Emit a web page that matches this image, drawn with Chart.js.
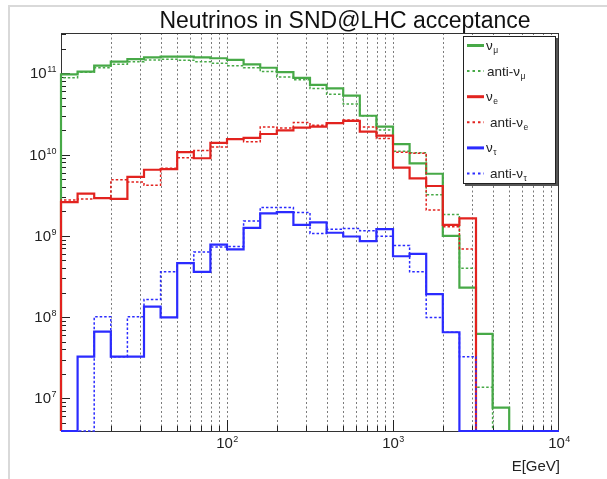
<!DOCTYPE html>
<html>
<head>
<meta charset="utf-8">
<script src="https://cdn.jsdelivr.net/npm/chart.js@4.4.1/dist/chart.umd.min.js"></script>
<style>
  html, body { margin: 0; padding: 0; background: #ffffff; }
  #wrap { width: 607px; height: 479px; position: relative; }
</style>
</head>
<body>
<div id="wrap"><canvas id="c" width="607" height="479"></canvas></div>
<script>
// Energy binning: 30 equal-width bins in log10(E), from 10 GeV to 10 TeV
const binEdges = Array.from({ length: 31 }, (_, k) => Math.pow(10, 1 + k / 10));

// Neutrino counts per energy bin (0 = empty bin)
const numu = [9.7e10, 1.05e11, 1.24e11, 1.39e11, 1.49e11, 1.57e11, 1.60e11, 1.60e11, 1.57e11, 1.53e11,
              1.46e11, 1.29e11, 1.17e11, 1.03e11, 8.8e10, 7.2e10, 6.5e10, 5.3e10, 3.0e10, 2.2e10,
              1.34e10, 7.8e9, 5.8e9, 1.0e9, 2.3e8, 6.2e7, 7.7e6, 0, 0, 0];
const antiNumu = [8.8e10, 1.03e11, 1.17e11, 1.29e11, 1.39e11, 1.46e11, 1.49e11, 1.45e11, 1.39e11, 1.33e11,
                  1.24e11, 1.17e11, 1.05e11, 9.0e10, 8.3e10, 6.5e10, 5.5e10, 4.2e10, 3.0e10, 2.0e10,
                  1.1e10, 1.05e10, 3.2e9, 1.83e9, 4.0e8, 1.37e7, 0, 0, 0, 0];
const nue = [2.6e9, 3.3e9, 2.9e9, 2.84e9, 5.3e9, 6.5e9, 6.6e9, 1.07e10, 9.0e9, 1.39e10,
             1.55e10, 1.6e10, 1.79e10, 1.98e10, 2.14e10, 2.2e10, 2.43e10, 2.59e10, 1.91e10, 1.71e10,
             6.9e9, 5.1e9, 4.1e9, 1.36e9, 1.64e9, 0, 0, 0, 0, 0];
const antiNue = [2.76e9, 2.84e9, 2.9e9, 4.9e9, 4.6e9, 4.2e9, 6.8e9, 9.1e9, 1.12e10, 1.24e10,
                 1.55e10, 1.44e10, 2.18e10, 2.12e10, 2.48e10, 2.29e10, 2.43e10, 2.66e10, 2.18e10, 1.58e10,
                 1.07e10, 1.04e10, 2.08e9, 1.29e9, 6.9e8, 0, 0, 0, 0, 0];
const nutau = [0, 3.25e7, 6.6e7, 3.25e7, 3.25e7, 1.34e8, 9.9e7, 4.6e8, 3.6e8, 7.8e8,
               6.8e8, 1.25e9, 1.89e9, 1.96e9, 1.36e9, 1.46e9, 1.09e9, 9.8e8, 8.6e8, 1.21e9,
               5.6e8, 6.0e8, 1.92e8, 6.5e7, 0, 0, 0, 0, 0, 0];
const antiNutau = [0, 0, 1.01e8, 3.25e7, 1.01e8, 1.65e8, 3.6e8, 4.6e8, 6.3e8, 7.3e8,
                   7.4e8, 1.52e9, 2.23e9, 2.23e9, 1.94e9, 1.07e9, 1.2e9, 1.23e9, 1.15e9, 9.9e8,
                   7.6e8, 3.6e8, 9.9e7, 6.5e7, 3.25e7, 0, 0, 0, 0, 0];

// Axis tick labels (powers of ten)
const xTickExps = [2, 3, 4];
const yTickExps = [7, 8, 9, 10, 11];

const X_MIN = 10, X_MAX = 1e4;
const Y_MIN = 3.96e6, Y_MAX = 3.13e11;

const GREEN = '#47a947', RED = '#e2231f', BLUE = '#2b2bff';
const FONT = '"Liberation Sans", Arial, Helvetica, sans-serif';

// Histogram outline: rise from the floor at the first edge, then one step per bin.
// Empty bins sit on the bottom of the frame, as on a log axis.
function histPoints(values) {
  const at = v => (v > 0 ? v : Y_MIN);
  const pts = [{ x: binEdges[0], y: Y_MIN }];
  values.forEach((v, k) => pts.push({ x: binEdges[k], y: at(v) }));
  pts.push({ x: binEdges[binEdges.length - 1], y: at(values[values.length - 1]) });
  return pts;
}

const series = [
  { data: numu, color: GREEN, dashed: false, sub: 'μ', label: 'ν' },
  { data: antiNumu, color: GREEN, dashed: true, sub: 'μ', label: 'anti-ν' },
  { data: nue, color: RED, dashed: false, sub: 'e', label: 'ν' },
  { data: antiNue, color: RED, dashed: true, sub: 'e', label: 'anti-ν' },
  { data: nutau, color: BLUE, dashed: false, sub: 'τ', label: 'ν' },
  { data: antiNutau, color: BLUE, dashed: true, sub: 'τ', label: 'anti-ν' }
];

const datasets = series.map((s, i) => ({
  label: s.label + s.sub,
  data: histPoints(s.data),
  borderColor: s.color,
  borderWidth: s.dashed ? 1.5 : 2.2,
  borderDash: s.dashed ? [2.5, 2] : [],
  stepped: true,
  fill: false,
  pointRadius: 0,
  clip: false,
  order: series.length - i
}));

// Grid / tick positions on the energy axis
const xMinor = [];
for (let d = 1; d <= 3; d++) for (let m = 1; m <= 9; m++) xMinor.push(m * Math.pow(10, d));
const yMinor = [];
for (let d = 6; d <= 11; d++) for (let m = 2; m <= 9; m++) {
  const v = m * Math.pow(10, d);
  if (v > Y_MIN && v < Y_MAX) yMinor.push(v);
}

function powerLabel(ctx, exp, x, y, align) {
  const base = '10', sup = String(exp);
  ctx.font = '15px ' + FONT;
  const wb = ctx.measureText(base).width;
  ctx.font = '9px ' + FONT;
  const ws = ctx.measureText(sup).width;
  const left = align === 'right' ? x - wb - ws : x - (wb + ws) / 2;
  ctx.textAlign = 'left';
  ctx.textBaseline = 'alphabetic';
  ctx.font = '15px ' + FONT;
  ctx.fillText(base, left, y);
  ctx.font = '9px ' + FONT;
  ctx.fillText(sup, left + wb + 0.5, y - 6);
}

const rootFrame = {
  id: 'rootFrame',
  beforeDatasetsDraw(chart) {
    const { ctx, chartArea: a, scales: { x, y } } = chart;
    ctx.save();
    // dotted vertical grid
    ctx.strokeStyle = '#7a7a7a';
    ctx.lineWidth = 1;
    ctx.setLineDash([2, 2.5]);
    xMinor.forEach(v => {
      if (v <= X_MIN || v >= X_MAX) return;
      const px = Math.round(x.getPixelForValue(v)) + 0.5;
      ctx.beginPath(); ctx.moveTo(px, a.bottom); ctx.lineTo(px, a.top); ctx.stroke();
    });
    ctx.setLineDash([]);
    // frame
    ctx.strokeStyle = '#333';
    ctx.lineWidth = 1;
    ctx.strokeRect(a.left + 0.5, a.top + 0.5, a.right - a.left - 1, a.bottom - a.top);
    // x ticks (bottom)
    ctx.strokeStyle = '#222';
    xMinor.forEach(v => {
      if (v <= X_MIN || v >= X_MAX) return;
      const px = Math.round(x.getPixelForValue(v)) + 0.5;
      const major = Math.abs(Math.log10(v) - Math.round(Math.log10(v))) < 1e-9;
      ctx.beginPath(); ctx.moveTo(px, a.bottom); ctx.lineTo(px, a.bottom - (major ? 11 : 5)); ctx.stroke();
    });
    // y ticks (left)
    yMinor.forEach(v => {
      const py = Math.round(y.getPixelForValue(v)) + 0.5;
      ctx.beginPath(); ctx.moveTo(a.left, py); ctx.lineTo(a.left + 5, py); ctx.stroke();
    });
    yTickExps.forEach(e => {
      const py = Math.round(y.getPixelForValue(Math.pow(10, e))) + 0.5;
      ctx.beginPath(); ctx.moveTo(a.left, py); ctx.lineTo(a.left + 9, py); ctx.stroke();
    });
    ctx.restore();
  },
  afterDraw(chart) {
    const { ctx, chartArea: a, scales: { x, y } } = chart;
    ctx.save();
    // outer canvas edge
    ctx.strokeStyle = '#d9d9d9';
    ctx.lineWidth = 2;
    ctx.beginPath(); ctx.moveTo(9, 479); ctx.lineTo(9, 6); ctx.lineTo(607, 6); ctx.stroke();

    ctx.fillStyle = '#222';
    // axis labels
    xTickExps.forEach(e => {
      const px = x.getPixelForValue(Math.pow(10, e));
      powerLabel(ctx, e, px, 448, 'center');
    });
    yTickExps.forEach(e => {
      const py = y.getPixelForValue(Math.pow(10, e));
      powerLabel(ctx, e, 56, py + 5, 'right');
    });
    // axis title
    ctx.font = '15px ' + FONT;
    ctx.textAlign = 'right';
    ctx.fillText('E[GeV]', a.right + 1, 471);
    // plot title
    ctx.font = '23px ' + FONT;
    ctx.textAlign = 'center';
    ctx.fillStyle = '#111';
    ctx.fillText('Neutrinos in SND@LHC acceptance', 345, 28);

    // legend box with shadow
    const L = { l: 463, t: 36, r: 556, b: 184 };
    ctx.fillStyle = '#555';
    ctx.fillRect(L.l + 2, L.t + 2, L.r - L.l, L.b - L.t);
    ctx.fillStyle = '#fff';
    ctx.fillRect(L.l, L.t, L.r - L.l, L.b - L.t);
    ctx.strokeStyle = '#222';
    ctx.lineWidth = 1;
    ctx.strokeRect(L.l + 0.5, L.t + 0.5, L.r - L.l - 1, L.b - L.t - 1);

    series.forEach((s, i) => {
      const cy = 45.5 + i * 25.6;
      ctx.strokeStyle = s.color;
      ctx.lineWidth = s.dashed ? 2 : 3;
      ctx.setLineDash(s.dashed ? [2.5, 3] : []);
      ctx.beginPath(); ctx.moveTo(467, cy); ctx.lineTo(484, cy); ctx.stroke();
      ctx.setLineDash([]);
      ctx.fillStyle = '#222';
      ctx.textAlign = 'left';
      ctx.font = '13.5px ' + FONT;
      const tx = s.dashed ? (i === 1 ? 487 : 490) : 486;
      ctx.fillText(s.label, tx, cy + 4.5);
      const w = ctx.measureText(s.label).width;
      ctx.font = '8.5px ' + FONT;
      ctx.fillText(s.sub, tx + w + 0.5, cy + 7.5);
    });
    ctx.restore();
  }
};

new Chart(document.getElementById('c'), {
  type: 'line',
  data: { datasets },
  options: {
    responsive: false,
    animation: false,
    events: [],
    layout: { padding: { left: 61, right: 48, top: 33, bottom: 48 } },
    scales: {
      x: { type: 'logarithmic', min: X_MIN, max: X_MAX, display: false },
      y: { type: 'logarithmic', min: Y_MIN, max: Y_MAX, display: false }
    },
    plugins: { legend: { display: false }, tooltip: { enabled: false }, title: { display: false } },
    elements: { point: { radius: 0 }, line: { tension: 0 } }
  },
  plugins: [rootFrame]
});
</script>
</body>
</html>
